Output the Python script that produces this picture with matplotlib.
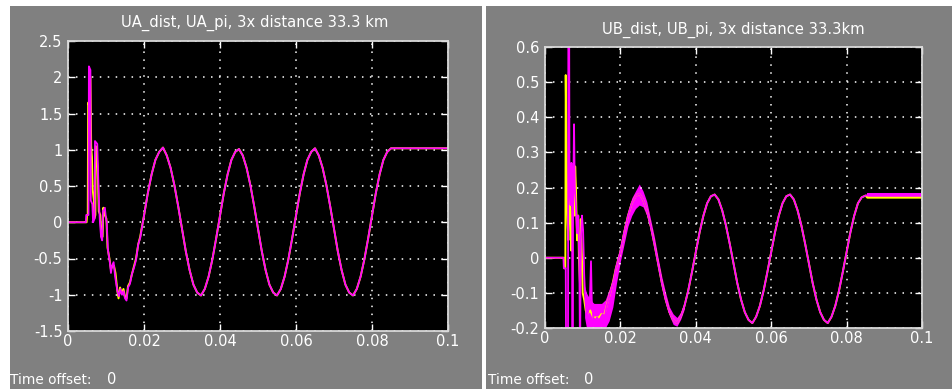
import numpy as np
import matplotlib.pyplot as plt
from matplotlib.patches import Rectangle
from matplotlib.ticker import FormatStrFormatter

plt.rcParams['font.family'] = ['DejaVu Sans']
plt.rcParams['font.size'] = 10

# ---- data ----
# shared steady-state time grid (s)
t_steady = [0.020, 0.021, 0.022, 0.023, 0.024, 0.025, 0.026, 0.027, 0.028, 0.029,
            0.030, 0.031, 0.032, 0.033, 0.034, 0.035, 0.036, 0.037, 0.038, 0.039,
            0.040, 0.041, 0.042, 0.043, 0.044, 0.045, 0.046, 0.047, 0.048, 0.049,
            0.050, 0.051, 0.052, 0.053, 0.054, 0.055, 0.056, 0.057, 0.058, 0.059,
            0.060, 0.061, 0.062, 0.063, 0.064, 0.065, 0.066, 0.067, 0.068, 0.069,
            0.070, 0.071, 0.072, 0.073, 0.074, 0.075, 0.076, 0.077, 0.078, 0.079,
            0.080, 0.081, 0.082, 0.083, 0.084, 0.085]
t_flat = [0.0855, 0.100]

# UA panel
ua_steady = [0.09, 0.40, 0.66, 0.86, 0.97, 1.03, 0.92, 0.75, 0.51, 0.22,
             -0.09, -0.40, -0.66, -0.86, -0.97, -1.01, -0.92, -0.75, -0.51, -0.22,
             0.09, 0.40, 0.66, 0.86, 0.97, 1.01, 0.92, 0.75, 0.51, 0.22,
             -0.09, -0.40, -0.66, -0.86, -0.97, -1.01, -0.92, -0.75, -0.51, -0.22,
             0.09, 0.40, 0.66, 0.86, 0.97, 1.02, 0.92, 0.75, 0.51, 0.22,
             -0.09, -0.40, -0.66, -0.86, -0.97, -1.01, -0.92, -0.75, -0.51, -0.22,
             0.09, 0.40, 0.66, 0.86, 0.97, 1.02]
ua_flat = [1.02, 1.02]

ua_dist_t = [0.0, 0.0049, 0.0050, 0.0052, 0.0053, 0.0056, 0.0057, 0.0059, 0.0061, 0.0063,
             0.0065, 0.0068, 0.0069, 0.0072, 0.0073, 0.0076, 0.0078, 0.0081, 0.0085, 0.0088,
             0.0091, 0.0093, 0.0097, 0.0101, 0.0104, 0.0109, 0.0113, 0.0117, 0.0121, 0.0125,
             0.0130, 0.0133, 0.0137, 0.0141, 0.0146, 0.0150, 0.0154, 0.0158, 0.0163, 0.0168,
             0.0174, 0.0179, 0.0185, 0.0190, 0.0195]
ua_dist_tr = [0.0, 0.0, 0.1, 0.1, 1.65, 1.6, 2.05, 2.0, 1.05, 0.9,
              0.45, 0.3, 0.05, 0.1, 1.05, 0.9, 0.75, 0.15, 0.1, -0.2,
              -0.2, 0.2, 0.1, 0.05, -0.35, -0.5, -0.65, -0.6, -0.6, -0.7,
              -0.95, -1.05, -0.9, -0.98, -0.92, -1.03, -1.05, -0.88, -0.83, -0.72,
              -0.6, -0.5, -0.3, -0.2, -0.05]

ua_pi_t = [0.0, 0.0047, 0.0048, 0.0054, 0.0055, 0.0059, 0.0060, 0.0064, 0.0066, 0.0070,
           0.0071, 0.0077, 0.0079, 0.0082, 0.0084, 0.0087, 0.0090, 0.0092, 0.0097, 0.0100,
           0.0102, 0.0105, 0.0110, 0.0113, 0.0116, 0.0120, 0.0124, 0.0130, 0.0134, 0.0138,
           0.0142, 0.0146, 0.0150, 0.0154, 0.0158, 0.0163, 0.0168, 0.0174, 0.0179, 0.0185,
           0.0190, 0.0195]
ua_pi_tr = [0.0, 0.0, 0.1, 0.1, 2.15, 2.1, 0.3, 0.25, 0.0, 0.05,
            1.12, 1.08, 0.7, 0.2, 0.0, -0.2, -0.25, 0.15, 0.2, 0.05,
            0.0, -0.38, -0.55, -0.7, -0.6, -0.55, -0.75, -0.95, -1.02, -0.92,
            -1.0, -0.95, -1.05, -1.08, -0.9, -0.85, -0.72, -0.62, -0.52, -0.3,
            -0.22, -0.06]

# UB panel
ub_steady = [0.016, 0.072, 0.119, 0.155, 0.175, 0.182, 0.166, 0.135, 0.092, 0.040,
             -0.016, -0.072, -0.119, -0.155, -0.177, -0.186, -0.168, -0.137, -0.093, -0.040,
             0.016, 0.072, 0.119, 0.155, 0.175, 0.180, 0.166, 0.135, 0.092, 0.040,
             -0.016, -0.072, -0.119, -0.155, -0.177, -0.186, -0.168, -0.137, -0.093, -0.040,
             0.016, 0.072, 0.119, 0.155, 0.175, 0.180, 0.166, 0.135, 0.092, 0.040,
             -0.016, -0.072, -0.119, -0.155, -0.177, -0.186, -0.168, -0.137, -0.093, -0.040,
             0.016, 0.072, 0.119, 0.155, 0.172, 0.177]
ub_dist_flat = [0.171, 0.171]
ub_pi_flat = [0.178, 0.178]

ub_dist_t = [0.0, 0.0050, 0.0051, 0.0054, 0.0055, 0.0057, 0.0059, 0.0060, 0.0062, 0.0064,
             0.0066, 0.0068, 0.0070, 0.0072, 0.0075, 0.0078, 0.0080, 0.0082, 0.0085, 0.0088,
             0.0090, 0.0093, 0.0095, 0.0098, 0.0100, 0.0104, 0.0108, 0.0112, 0.0120, 0.0128,
             0.0135, 0.0143, 0.0150, 0.0158, 0.0165, 0.0173, 0.0180, 0.0188, 0.0193]
ub_dist_tr = [0.0, 0.0, -0.03, -0.03, 0.52, 0.32, 0.15, 0.10, 0.05, 0.27,
              0.17, 0.08, 0.02, 0.10, 0.20, 0.12, 0.26, 0.20, 0.05, 0.12,
              0.0, -0.08, 0.11, 0.0, -0.10, -0.12, -0.15, -0.16, -0.15, -0.17,
              -0.17, -0.17, -0.16, -0.16, -0.13, -0.10, -0.07, -0.03, -0.01]

ub_pi_t = [0.0, 0.0049, 0.0050, 0.0055, 0.0056, 0.0061, 0.0062, 0.0064, 0.0065, 0.0068,
           0.0070, 0.0072, 0.0073, 0.0074, 0.0077, 0.0079, 0.0082, 0.0085, 0.0088, 0.0091,
           0.0093, 0.0095, 0.0098, 0.0101, 0.0104, 0.0107, 0.0111, 0.0115, 0.0119, 0.0122,
           0.0124, 0.0128, 0.0133, 0.0138, 0.0143, 0.0148, 0.0153, 0.0158, 0.0163, 0.0168,
           0.0173, 0.0178, 0.0183, 0.0188, 0.0193]
ub_pi_tr = [0.0, 0.0, -0.03, -0.03, -0.3, -0.3, 0.7, 0.7, 0.2, 0.15,
            0.27, 0.2, -0.3, 0.1, 0.38, 0.2, 0.15, 0.07, 0.12, 0.0,
            -0.3, 0.05, 0.12, 0.08, -0.05, -0.12, -0.17, -0.15, -0.12, -0.01,
            -0.12, -0.17, -0.18, -0.17, -0.18, -0.17, -0.16, -0.17, -0.14, -0.12,
            -0.10, -0.08, -0.06, -0.03, -0.01]

# noisy envelope of UB_pi during the first cycles
ub_band_t = [0.0105, 0.011, 0.012, 0.013, 0.014, 0.015, 0.016, 0.017, 0.018, 0.019,
             0.020, 0.021, 0.022, 0.023, 0.024, 0.025, 0.026, 0.027, 0.028, 0.029,
             0.030, 0.031, 0.032, 0.033, 0.034, 0.035, 0.036, 0.037]
ub_band_lo = [-0.17, -0.20, -0.21, -0.21, -0.21, -0.21, -0.20, -0.18, -0.14, -0.07,
              -0.01, 0.04, 0.09, 0.12, 0.14, 0.15, 0.145, 0.12, 0.08, 0.03,
              -0.03, -0.085, -0.13, -0.165, -0.19, -0.195, -0.175, -0.145]
ub_band_hi = [-0.08, -0.10, -0.12, -0.13, -0.13, -0.13, -0.12, -0.09, -0.06, -0.01,
              0.04, 0.09, 0.13, 0.17, 0.19, 0.21, 0.19, 0.16, 0.11, 0.06,
              0.0, -0.055, -0.10, -0.14, -0.16, -0.17, -0.155, -0.125]
ub_flat_lo = [0.174, 0.174]
ub_flat_hi = [0.185, 0.185]

W, H = 952, 389
GRAY = '#808080'
YEL = '#ffff00'
MAG = '#ff00ff'


def px_rect(x0, y0, x1, y1):
    # pixel box (top-left origin) -> figure fraction
    return [x0 / W, 1 - y1 / H, (x1 - x0) / W, (y1 - y0) / H]


fig = plt.figure(figsize=(W / 100, H / 100), dpi=100, facecolor='white')
for x0, x1 in [(10, 482), (486, 952)]:
    r = px_rect(x0, 6, x1, H)
    fig.patches.append(Rectangle((r[0], r[1]), r[2], r[3], transform=fig.transFigure,
                                 facecolor=GRAY, edgecolor='none', zorder=-10))


def style_axes(ax, ylim, ystep):
    ax.set_facecolor('black')
    ax.set_xlim(0, 0.1)
    ax.set_ylim(*ylim)
    ax.set_xticks(np.linspace(0, 0.1, 6))
    ax.set_yticks(np.arange(ylim[0], ylim[1] + ystep / 2, ystep))
    ax.xaxis.set_major_formatter(FormatStrFormatter('%g'))
    ax.yaxis.set_major_formatter(FormatStrFormatter('%g'))
    ax.grid(True, color='white', linestyle=(0, (1, 4.2)), linewidth=1.1)
    ax.tick_params(direction='in', length=5, width=1, colors='white',
                   top=True, right=True, labelsize=10.5)
    ax.tick_params(axis='x', pad=2)
    ax.tick_params(axis='y', pad=4)
    for s in ax.spines.values():
        s.set_color('#d8d8d8')
        s.set_linewidth(1.3)


# ---- left: UA ----
ax1 = fig.add_axes(px_rect(68, 41, 448, 331))
style_axes(ax1, (-1.5, 2.5), 0.5)
ax1.plot(np.r_[ua_dist_t, t_steady, t_flat], np.r_[ua_dist_tr, ua_steady, ua_flat],
         color=YEL, lw=1.4)
ax1.plot(np.r_[ua_pi_t, t_steady, t_flat], np.r_[ua_pi_tr, ua_steady, ua_flat],
         color=MAG, lw=1.3)
fig.text(255 / W, 1 - 23 / H, 'UA_dist, UA_pi, 3x distance 33.3 km',
         color='white', ha='center', va='center', fontsize=10.6)

# ---- right: UB ----
ax2 = fig.add_axes(px_rect(545, 47, 922, 328))
style_axes(ax2, (-0.2, 0.6), 0.1)
ax2.plot(np.r_[ub_dist_t, t_steady, t_flat], np.r_[ub_dist_tr, ub_steady, ub_dist_flat],
         color=YEL, lw=1.4)
ax2.fill_between(ub_band_t, ub_band_lo, ub_band_hi, color=MAG, lw=0)
ax2.fill_between(t_flat, ub_flat_lo, ub_flat_hi, color=MAG, lw=0)
ax2.plot(np.r_[ub_pi_t, t_steady, t_flat], np.r_[ub_pi_tr, ub_steady, ub_pi_flat],
         color=MAG, lw=1.3)
fig.text(733 / W, 1 - 30 / H, 'UB_dist, UB_pi, 3x distance 33.3km',
         color='white', ha='center', va='center', fontsize=10.6)

# footer
for x_lab, x_val in [(10, 107), (488, 584)]:
    fig.text(x_lab / W, 1 - 380 / H, 'Time offset:', color='white',
             ha='left', va='center', fontsize=9.8)
    fig.text(x_val / W, 1 - 380 / H, '0', color='white',
             ha='left', va='center', fontsize=10.5)

fig.savefig('out.png', dpi=100, facecolor='white')
